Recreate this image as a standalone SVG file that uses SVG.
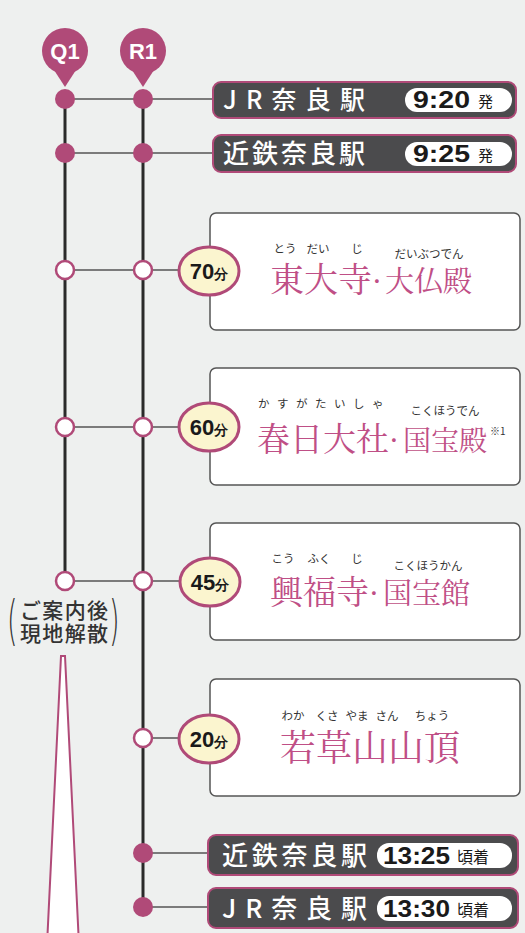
<svg xmlns="http://www.w3.org/2000/svg" width="525" height="933" viewBox="0 0 525 933">
<defs>
<style>
.bg{fill:#eef0ef}
.vline{stroke:#2a2a2a;stroke-width:3;fill:none}
.hline{stroke:#555;stroke-width:1.4;fill:none}
.dot{fill:#b04a78}
.ring{fill:#fff;stroke:#b04a78;stroke-width:2.5}
.mark{fill:#b04a78}
.marktxt{font-family:"Liberation Sans",Arial,sans-serif;font-weight:bold;font-size:22px;fill:#fff;text-anchor:middle}
.stbox{fill:#4b4b4d;stroke:#b04a78;stroke-width:2}
.sttxt{font-family:"Noto Sans CJK JP",sans-serif;font-weight:500;fill:#fff}
.pill{fill:#fff}
.ptime{font-family:"Liberation Sans",Arial,sans-serif;font-weight:bold;fill:#1a1a1a}
.psuf{font-family:"Noto Sans CJK JP",sans-serif;fill:#1a1a1a}
.card{fill:#fff;stroke:#555;stroke-width:1.5}
.dur{fill:#fbf5cf;stroke:#b04a78;stroke-width:3}
.durtxt{font-family:"Liberation Sans",Arial,sans-serif;font-weight:bold;font-size:22px;fill:#1a1a1a;text-anchor:middle}
.name{font-family:"Noto Serif CJK JP","Noto Sans CJK JP",serif;fill:#bf4f86}
.rb{font-family:"Noto Sans CJK JP",sans-serif;font-size:11.5px;fill:#333;text-anchor:middle}
.note{font-family:"Noto Sans CJK JP",sans-serif;font-weight:500;font-size:21px;fill:#333}
.paren{font-family:"DejaVu Sans",sans-serif;font-weight:200;font-size:54px;fill:#333}
</style>
</defs>
<rect class="bg" x="0" y="0" width="525" height="933"/>

<g id="connectors">
<line class="vline" x1="65" y1="99" x2="65" y2="581"/>
<line class="vline" x1="143" y1="99" x2="143" y2="907"/>
<line class="hline" x1="65" y1="99" x2="213" y2="99"/>
<line class="hline" x1="65" y1="153" x2="213" y2="153"/>
<line class="hline" x1="65" y1="270" x2="180" y2="270"/>
<line class="hline" x1="65" y1="427" x2="180" y2="427"/>
<line class="hline" x1="65" y1="581" x2="180" y2="581"/>
<line class="hline" x1="143" y1="738" x2="180" y2="738"/>
<line class="hline" x1="143" y1="853" x2="208" y2="853"/>
<line class="hline" x1="143" y1="907" x2="208" y2="907"/>
</g>

<g id="marker-q1">
<circle class="mark" cx="65" cy="51" r="23"/>
<path class="mark" d="M54 70 L65 87 L76 70 Z"/>
<text class="marktxt" x="65" y="59">Q1</text>
</g>
<g id="marker-r1">
<circle class="mark" cx="143" cy="51" r="23"/>
<path class="mark" d="M132 70 L143 87 L154 70 Z"/>
<text class="marktxt" x="143" y="59">R1</text>
</g>

<g id="stops">
<circle class="dot" cx="65" cy="99" r="10"/>
<circle class="dot" cx="143" cy="99" r="10"/>
<circle class="dot" cx="65" cy="153" r="10"/>
<circle class="dot" cx="143" cy="153" r="10"/>
<circle class="ring" cx="65" cy="270" r="9"/>
<circle class="ring" cx="143" cy="270" r="9"/>
<circle class="ring" cx="65" cy="427" r="9"/>
<circle class="ring" cx="143" cy="427" r="9"/>
<circle class="ring" cx="65" cy="581" r="9"/>
<circle class="ring" cx="143" cy="581" r="9"/>
<circle class="ring" cx="143" cy="738" r="9"/>
<circle class="dot" cx="143" cy="853" r="10"/>
<circle class="dot" cx="143" cy="907" r="10"/>
</g>

<g id="jr-depart">
<rect class="stbox" x="213" y="82" width="303" height="36" rx="8"/>
<text class="sttxt" x="223" y="109" font-size="25" textLength="142" lengthAdjust="spacing">JR奈良駅</text>
<rect class="pill" x="405" y="88" width="107" height="24" rx="12"/>
<text class="ptime" x="413" y="108" font-size="23" textLength="57" lengthAdjust="spacingAndGlyphs">9:20</text>
<text class="psuf" x="478" y="107" font-size="15">発</text>
</g>

<g id="kintetsu-depart">
<rect class="stbox" x="213" y="135" width="303" height="37" rx="8"/>
<text class="sttxt" x="223" y="163" font-size="26" textLength="142" lengthAdjust="spacing">近鉄奈良駅</text>
<rect class="pill" x="405" y="142" width="107" height="24" rx="12"/>
<text class="ptime" x="413" y="162" font-size="23" textLength="57" lengthAdjust="spacingAndGlyphs">9:25</text>
<text class="psuf" x="478" y="161" font-size="15">発</text>
</g>

<g id="todaiji">
<rect class="card" x="210" y="213" width="310" height="117" rx="6"/>
<ellipse class="dur" cx="209" cy="271" rx="30" ry="24"/>
<text class="durtxt" x="209" y="279">70<tspan font-size="14">分</tspan></text>
<text class="name"><tspan class="rb" x="285" y="253">とう</tspan><tspan class="rb" x="318" y="253">だい</tspan><tspan class="rb" x="357" y="253">じ</tspan><tspan class="rb" x="429" y="258">だいぶつでん</tspan><tspan x="270" y="292" font-size="34">東大寺</tspan><tspan x="372" y="292" font-size="30">·</tspan><tspan x="385" y="292" font-size="29">大仏殿</tspan></text>
</g>

<g id="kasuga">
<rect class="card" x="210" y="368" width="310" height="117" rx="6"/>
<ellipse class="dur" cx="209" cy="427" rx="30" ry="24"/>
<text class="durtxt" x="209" y="435">60<tspan font-size="14">分</tspan></text>
<text class="name"><tspan class="rb" x="258" y="408" letter-spacing="7.5" style="text-anchor:start">かすがたいしゃ</tspan><tspan class="rb" x="445" y="415">こくほうでん</tspan><tspan x="257" y="451" font-size="33">春日大社</tspan><tspan x="389" y="451" font-size="30">·</tspan><tspan x="403" y="451" font-size="28">国宝殿</tspan></text>
<text x="490" y="435" font-family="Noto Sans CJK JP,sans-serif" font-size="10" fill="#333">※1</text>
</g>

<g id="kofukuji">
<rect class="card" x="210" y="523" width="310" height="117" rx="6"/>
<ellipse class="dur" cx="210" cy="582" rx="30" ry="24"/>
<text class="durtxt" x="210" y="590">45<tspan font-size="14">分</tspan></text>
<text class="name"><tspan class="rb" x="283" y="563">こう</tspan><tspan class="rb" x="319" y="563">ふく</tspan><tspan class="rb" x="357" y="563">じ</tspan><tspan class="rb" x="428" y="570">こくほうかん</tspan><tspan x="270" y="604" font-size="33">興福寺</tspan><tspan x="369" y="604" font-size="30">·</tspan><tspan x="383" y="604" font-size="29">国宝館</tspan></text>
</g>

<g id="wakakusa">
<rect class="card" x="210" y="679" width="310" height="117" rx="6"/>
<ellipse class="dur" cx="209" cy="739" rx="30" ry="24"/>
<text class="durtxt" x="209" y="747">20<tspan font-size="14">分</tspan></text>
<text class="name"><tspan class="rb" x="293" y="720">わか</tspan><tspan class="rb" x="327" y="720">くさ</tspan><tspan class="rb" x="357" y="720">やま</tspan><tspan class="rb" x="387" y="720">さん</tspan><tspan class="rb" x="432" y="720">ちょう</tspan><tspan x="280" y="761" font-size="36">若草山山頂</tspan></text>
</g>

<g id="kintetsu-arrive">
<rect class="stbox" x="208" y="835" width="310" height="40" rx="8"/>
<text class="sttxt" x="222" y="865" font-size="26" textLength="145" lengthAdjust="spacing">近鉄奈良駅</text>
<rect class="pill" x="377" y="843" width="135" height="25" rx="12"/>
<text class="ptime" x="383" y="864" font-size="23" textLength="67" lengthAdjust="spacingAndGlyphs">13:25</text>
<text class="psuf" x="457" y="863" font-size="16">頃着</text>
</g>

<g id="jr-arrive">
<rect class="stbox" x="208" y="888" width="310" height="40" rx="8"/>
<text class="sttxt" x="222" y="918" font-size="26" textLength="145" lengthAdjust="spacing">JR奈良駅</text>
<rect class="pill" x="377" y="896" width="135" height="25" rx="12"/>
<text class="ptime" x="383" y="917" font-size="23" textLength="67" lengthAdjust="spacingAndGlyphs">13:30</text>
<text class="psuf" x="457" y="916" font-size="16">頃着</text>
</g>

<g id="q1-end">
<text class="paren" transform="translate(7,639) scale(0.5,1)">(</text>
<text class="note" x="20" y="618" textLength="88" lengthAdjust="spacing">ご案内後</text>
<text class="note" x="20" y="641" textLength="88" lengthAdjust="spacing">現地解散</text>
<text class="paren" transform="translate(109,639) scale(0.5,1)">)</text>
<polygon points="61,656 65,656 79,945 47,945" fill="#fff" stroke="#b04a78" stroke-width="2"/>
</g>
</svg>
